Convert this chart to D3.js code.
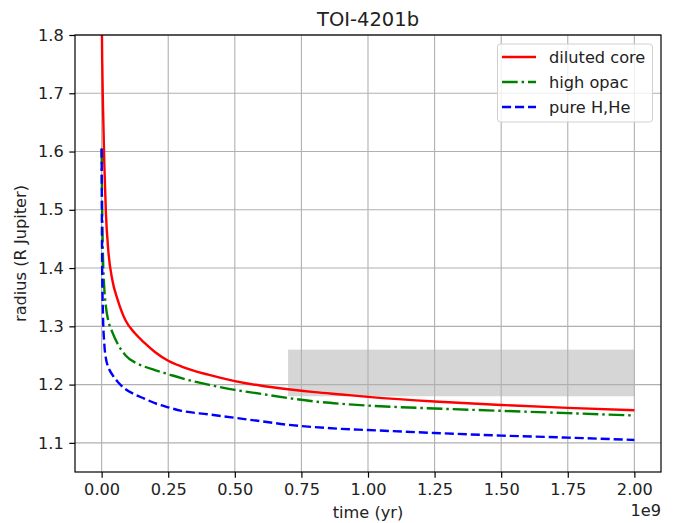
<!DOCTYPE html>
<html>
<head>
<meta charset="utf-8">
<script src="https://cdn.jsdelivr.net/npm/d3@7"></script>
<style>
  html, body { margin: 0; padding: 0; background: #fff; }
  svg { display: block; }
  text { font-family: "DejaVu Sans", sans-serif; }
</style>
</head>
<body>
<svg id="chart" width="678" height="523"></svg>
<script>
// ---- data (time in years, radius in R Jupiter) ----
const times = [0, 0.002e9, 0.005e9, 0.01e9, 0.016e9, 0.025e9, 0.04e9, 0.06e9, 0.09e9, 0.125e9, 0.16e9, 0.2e9,
               0.25e9, 0.3e9, 0.4e9, 0.5e9, 0.6e9, 0.7e9, 0.8e9, 0.9e9, 1.0e9, 1.25e9, 1.5e9, 1.75e9, 2.0e9];
const dilutedCore = [1.86, 1.76, 1.68, 1.58, 1.495, 1.43, 1.38, 1.346, 1.31, 1.288, 1.272, 1.256,
                     1.241, 1.231, 1.217, 1.206, 1.198, 1.192, 1.187, 1.183, 1.179, 1.171, 1.165, 1.160, 1.156];
const highOpac    = [1.605, 1.50, 1.42, 1.365, 1.334, 1.31, 1.29, 1.27, 1.25, 1.238, 1.231, 1.225,
                     1.218, 1.211, 1.200, 1.191, 1.184, 1.177, 1.171, 1.167, 1.164, 1.159, 1.155, 1.151, 1.147];
const pureHHe     = [1.605, 1.40, 1.32, 1.27, 1.245, 1.23, 1.217, 1.205, 1.192, 1.183, 1.176, 1.168,
                     1.161, 1.155, 1.149, 1.143, 1.137, 1.131, 1.127, 1.124, 1.122, 1.117, 1.1125, 1.109, 1.105];
const seriesNames = ["diluted core", "high opac", "pure H,He"];
const xTicks = [0, 0.25e9, 0.5e9, 0.75e9, 1.0e9, 1.25e9, 1.5e9, 1.75e9, 2.0e9];
const yTicks = [1.1, 1.2, 1.3, 1.4, 1.5, 1.6, 1.7, 1.8];
const obsTime = [0.7e9, 2.0e9];
const obsRadius = [1.18, 1.26];
const title = "TOI-4201b";
const xLabel = "time (yr)";
const yLabel = "radius (R Jupiter)";

// ---- layout ----
const svg = d3.select("#chart");
const L = 75, R = 661, T = 35, B = 472;
const fs = 16.2;
const x = d3.scaleLinear().domain([-0.1e9, 2.1e9]).range([L, R]);
const y = d3.scaleLinear().domain([1.05, 1.8]).range([B, T]);

svg.append("defs").append("clipPath").attr("id", "clip")
  .append("rect").attr("x", L).attr("y", T).attr("width", R - L).attr("height", B - T);

// observed band
svg.append("rect")
  .attr("x", x(obsTime[0])).attr("y", y(obsRadius[1]))
  .attr("width", x(obsTime[1]) - x(obsTime[0]))
  .attr("height", y(obsRadius[0]) - y(obsRadius[1]))
  .attr("fill", "#808080").attr("fill-opacity", 0.32);

// grid
const grid = svg.append("g").attr("stroke", "#b0b0b0").attr("stroke-width", 1.1);
grid.selectAll(".gx").data(xTicks).join("line")
  .attr("x1", d => x(d)).attr("x2", d => x(d)).attr("y1", T).attr("y2", B);
grid.selectAll(".gy").data(yTicks).join("line")
  .attr("x1", L).attr("x2", R).attr("y1", d => y(d)).attr("y2", d => y(d));

// lines
const series = [
  { name: seriesNames[0], values: dilutedCore, color: "#ff0000", dash: null },
  { name: seriesNames[1], values: highOpac, color: "#008000", dash: "15.7,3.9,2.5,3.9" },
  { name: seriesNames[2], values: pureHHe, color: "#0000ff", dash: "9.1,3.9" }
];
const line = d3.line().x(d => x(d[0])).y(d => y(d[1])).curve(d3.curveMonotoneX);
const lg = svg.append("g").attr("clip-path", "url(#clip)");
series.forEach(s => {
  lg.append("path")
    .datum(times.map((t, i) => [t, s.values[i]]))
    .attr("d", line)
    .attr("fill", "none")
    .attr("stroke", s.color)
    .attr("stroke-width", 2.4)
    .attr("stroke-dasharray", s.dash);
});

// axes
const xAxis = svg.append("g").attr("transform", `translate(0,${B})`)
  .call(d3.axisBottom(x).tickValues(xTicks).tickFormat(d => (d / 1e9).toFixed(2))
        .tickSizeInner(5.7).tickSizeOuter(0).tickPadding(5.5));
const yAxis = svg.append("g").attr("transform", `translate(${L},0)`)
  .call(d3.axisLeft(y).tickValues(yTicks).tickFormat(d3.format(".1f"))
        .tickSizeInner(5.7).tickSizeOuter(0).tickPadding(5.5));
[xAxis, yAxis].forEach(a => {
  a.select(".domain").remove();
  a.selectAll(".tick line").attr("stroke", "#000").attr("stroke-width", 1.2);
  a.selectAll(".tick text").attr("fill", "#222").style("font-size", fs + "px")
    .style("font-family", "DejaVu Sans, sans-serif");
});

// spines
svg.append("rect").attr("x", L).attr("y", T).attr("width", R - L).attr("height", B - T)
  .attr("fill", "none").attr("stroke", "#000").attr("stroke-width", 1.2);

// labels
svg.append("text").attr("x", (L + R) / 2).attr("y", 26).attr("text-anchor", "middle")
  .style("font-size", "19.5px").attr("fill", "#222").text(title);
svg.append("text").attr("x", (L + R) / 2).attr("y", 518).attr("text-anchor", "middle")
  .style("font-size", fs + "px").attr("fill", "#222").text(xLabel);
svg.append("text").attr("x", R).attr("y", 516).attr("text-anchor", "end")
  .style("font-size", fs + "px").attr("fill", "#222").text("1e9");
svg.append("text").attr("transform", `translate(26,${(T + B) / 2}) rotate(-90)`)
  .attr("text-anchor", "middle")
  .style("font-size", fs + "px").attr("fill", "#222").text(yLabel);

// legend
const leg = svg.append("g");
leg.append("rect").attr("x", 497.5).attr("y", 44).attr("width", 155).attr("height", 78)
  .attr("rx", 3).attr("fill", "#fff").attr("fill-opacity", 0.8)
  .attr("stroke", "#d0d0d0").attr("stroke-width", 1);
series.forEach((s, i) => {
  const cy = 57 + i * 25;
  leg.append("line").attr("x1", 502).attr("x2", 536).attr("y1", cy).attr("y2", cy)
    .attr("stroke", s.color).attr("stroke-width", 2.4).attr("stroke-dasharray", s.dash);
  leg.append("text").attr("x", 549).attr("y", cy + 5.8)
    .style("font-size", fs + "px").attr("fill", "#222").text(s.name);
});
</script>
</body>
</html>
